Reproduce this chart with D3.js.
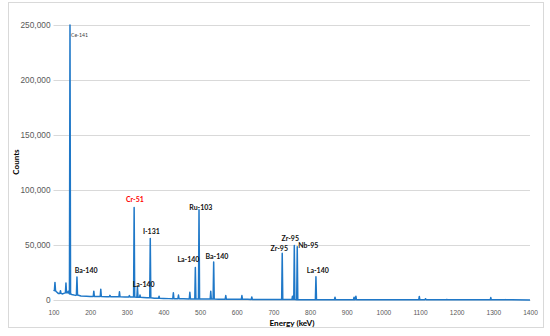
<!DOCTYPE html>
<html>
<head>
<meta charset="utf-8">
<script src="https://cdn.jsdelivr.net/npm/d3@7"></script>
<style>
  body { margin: 0; background: #fff; }
  svg { display: block; }
</style>
</head>
<body>
<div id="viz"></div>
<script>
// spectrum background (keV, counts)
var baseline = [
  [100, 9000], [108, 7500], [113, 6000], [125, 5500], [128, 6000],
  [150, 5000], [160, 4200], [175, 3600], [190, 3400], [200, 3200],
  [220, 3200], [245, 3000], [265, 3000], [295, 2800], [315, 2700],
  [345, 2300], [355, 2100], [375, 1700], [400, 1400], [415, 1250],
  [455, 1050], [480, 950], [510, 850], [520, 800], [550, 750],
  [560, 700], [590, 650], [630, 580], [660, 520], [700, 450],
  [740, 380], [780, 330], [800, 300], [850, 270], [900, 250],
  [950, 230], [1000, 210], [1050, 200], [1150, 180], [1200, 160],
  [1250, 150], [1350, 120], [1400, 100]
];

// peaks: keV, top counts, foot counts
var peaks = [
  [104, 16000, 8500], [119, 8500, 6000], [134, 15500, 6500], [140, 8000, 6500],
  [145, 250000, 5500], [164, 21000, 4500], [210, 8000, 3200], [229, 9800, 3200],
  [254, 4200, 3000], [280, 7500, 2900], [307, 4000, 2700], [320, 84000, 2700],
  [329, 12000, 2600], [336, 4500, 2400], [364, 56000, 2000], [388, 3500, 1500],
  [427, 6500, 1200], [441, 4500, 1150], [472, 7000, 1000], [487, 29500, 950],
  [497, 82000, 900], [529, 8000, 800], [537, 34500, 800], [570, 4000, 700],
  [614, 4000, 600], [641, 2800, 550], [724, 42500, 400], [752, 3500, 350],
  [757, 49500, 350], [765, 48500, 320], [816, 21200, 300], [868, 2500, 260],
  [920, 2500, 250], [925, 3500, 250], [1098, 3200, 200], [1115, 1200, 190],
  [1173, 500, 170], [1293, 2200, 140], [1332, 400, 130]
];

var peakNames = ["Ce-141", "Ba-140", "Cr-51", "La-140", "I-131", "La-140", "Ru-103",
                 "Ba-140", "Zr-95", "Zr-95", "Nb-95", "La-140"];
var labelKeV = [171, 189, 322, 346, 367, 468, 502, 546, 716, 746, 795, 821];
var labelCounts = [239000, 24100, 89500, 11800, 60000, 34100, 81400, 37700, 44100, 53200, 47300, 24100];

var energyTicks = [100, 200, 300, 400, 500, 600, 700, 800, 900, 1000, 1100, 1200, 1300, 1400];
var countTicks = [0, 50000, 100000, 150000, 200000, 250000];

var width = 550,
    height = 336;

// plot area (px)
var plotLeft = 53.5, plotRight = 530, plotTop = 25, plotBottom = 300;

var svg = d3.select("div#viz")
    .append("svg")
    .attr("width", width)
    .attr("height", height);

// chart frame
svg.append("rect")
    .attr("x", 8.5).attr("y", 2.5)
    .attr("width", 535).attr("height", 325)
    .attr("fill", "#fff")
    .attr("stroke", "#d9d9d9");

var x = d3.scaleLinear().domain([100, 1400]).range([plotLeft, plotRight]);
var y = d3.scaleLinear().domain([0, 250000]).range([plotBottom, plotTop]);

// y gridlines + labels
var yAxis = svg.append("g")
    .attr("transform", "translate(" + plotLeft + ",0)")
    .call(d3.axisLeft(y).tickValues(countTicks).tickFormat(d3.format(","))
        .tickSize(-(plotRight - plotLeft)).tickPadding(3));
yAxis.select(".domain").remove();
yAxis.selectAll(".tick line").attr("stroke", "#d9d9d9");
yAxis.selectAll(".tick text")
    .attr("fill", "#595959")
    .style("font-family", "'Liberation Sans', Arial, sans-serif")
    .style("font-size", "8.3px");

var xAxis = svg.append("g")
    .attr("transform", "translate(0," + plotBottom + ")")
    .call(d3.axisBottom(x).tickValues(energyTicks).tickFormat(d3.format("d"))
        .tickSize(0).tickPadding(10));
xAxis.select(".domain").attr("stroke", "#d9d9d9");
xAxis.selectAll(".tick text")
    .attr("fill", "#595959")
    .style("font-family", "'Liberation Sans', Arial, sans-serif")
    .style("font-size", "6.6px");

// build the spectrum from background + peak triangles
var w = 1.5;
var points = baseline.slice();
peaks.forEach(function(p) {
    points.push([p[0] - w, p[2]]);
    points.push([p[0], p[1]]);
    points.push([p[0] + w, p[2]]);
});
points.sort(function(a, b) { return a[0] - b[0]; });

var line = d3.line()
    .x(function(d) { return x(d[0]); })
    .y(function(d) { return y(d[1]); });

svg.append("path")
    .datum(points)
    .attr("d", line)
    .attr("fill", "none")
    .attr("stroke", "#1f78c8")
    .attr("stroke-width", 1.5)
    .attr("stroke-linejoin", "round");

// peak labels
svg.append("g")
    .selectAll("text")
    .data(peakNames)
    .enter().append("text")
    .attr("x", function(d, i) { return x(labelKeV[i]); })
    .attr("y", function(d, i) { return y(labelCounts[i]); })
    .attr("text-anchor", "middle")
    .style("font-family", "Lato, 'Open Sans', sans-serif")
    .style("font-size", function(d, i) { return i == 0 ? "5.2px" : "7px"; })
    .style("font-weight", function(d, i) { return i == 0 ? "normal" : "bold"; })
    .attr("fill", function(d, i) {
        if (i == 0) return "#404040";
        if (d == "Cr-51") return "#ff0000";
        return "#111";
    })
    .text(function(d) { return d; });

// axis titles
svg.append("text")
    .attr("transform", "translate(19,162) rotate(-90)")
    .attr("text-anchor", "middle")
    .style("font-family", "Lato, sans-serif")
    .style("font-size", "8px")
    .style("font-weight", "bold")
    .text("Counts");

svg.append("text")
    .attr("x", 292)
    .attr("y", 325.5)
    .attr("text-anchor", "middle")
    .style("font-family", "Lato, sans-serif")
    .style("font-size", "8.2px")
    .style("font-weight", "bold")
    .text("Energy (keV)");
</script>
</body>
</html>
